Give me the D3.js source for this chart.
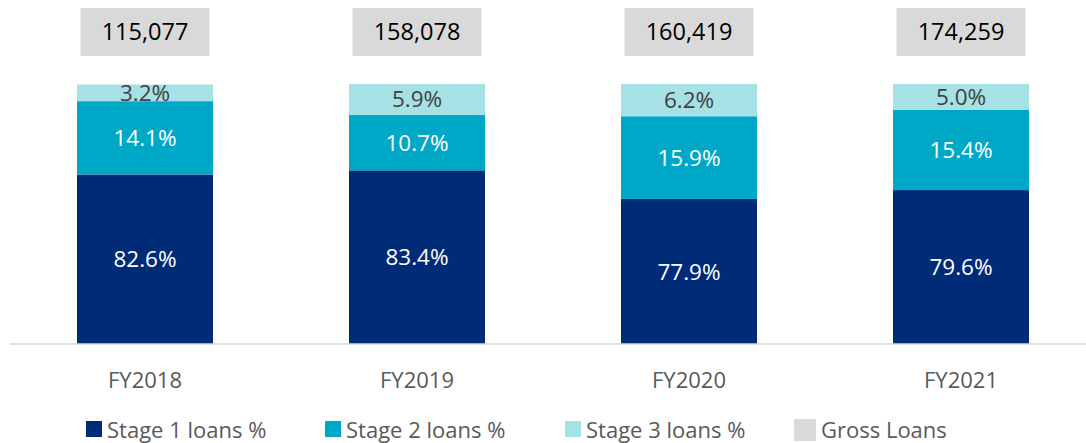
<!DOCTYPE html>
<html>
<head>
<meta charset="utf-8">
<script src="https://cdn.jsdelivr.net/npm/d3@7"></script>
<style>
  html, body { margin: 0; padding: 0; background: #fff; }
  svg { display: block; font-family: 'Open Sans', sans-serif; }
</style>
</head>
<body>
<div id="app"></div>
<script>
(function (d3) {

  'use strict'

  const years = ['FY2018', 'FY2019', 'FY2020', 'FY2021']
  const stage1 = [82.6, 83.4, 77.9, 79.6]
  const stage2 = [14.1, 10.7, 15.9, 15.4]
  const stage3 = [3.2, 5.9, 6.2, 5.0]
  const grossLoans = [115077, 158078, 160419, 174259]
  const seriesNames = ['Stage 1 loans %', 'Stage 2 loans %', 'Stage 3 loans %']
  const colors = ['#002b77', '#00a8c8', '#a6e1e6']

  const w = 1086
  const h = 443

  const svg = d3.select('#app')
  .append('svg')
  .attr('width', w)
  .attr('height', h)

  const x = d3.scaleBand()
  .domain(years)
  .range([9, 1097])
  .paddingInner(0.5)
  .paddingOuter(0.25)

  // value axis starts at 50%, bars are cut there
  const y = d3.scaleLinear()
  .domain([50, 100])
  .range([344, 84])

  const rows = years.map((yr, i) => ({ year: yr, s1: stage1[i], s2: stage2[i], s3: stage3[i] }))
  const stacked = d3.stack().keys(['s1', 's2', 's3'])(rows)

  const layers = svg.append('g')
  .selectAll('g')
  .data(stacked)
  .enter()
  .append('g')
  .attr('fill', (d, i) => colors[i])

  layers.selectAll('rect')
  .data(d => d)
  .enter()
  .append('rect')
  .attr('x', d => x(d.data.year))
  .attr('width', x.bandwidth())
  .attr('y', d => y(d[1]))
  .attr('height', d => y(Math.max(d[0], 50)) - y(d[1]))

  layers.each(function (layer, li) {
    d3.select(this).selectAll('text')
    .data(layer)
    .enter()
    .append('text')
    .attr('x', d => x(d.data.year) + x.bandwidth() / 2)
    .attr('y', d => (y(Math.max(d[0], 50)) + y(d[1])) / 2)
    .attr('dy', '0.36em')
    .attr('text-anchor', 'middle')
    .attr('font-size', 22.5)
    .attr('fill', li === 2 ? '#404040' : '#fff')
    .text(d => (d[1] - d[0]).toFixed(1) + '%')
  })

  // axis line + category labels
  svg.append('line')
  .attr('x1', 10).attr('x2', w)
  .attr('y1', y(50)).attr('y2', y(50))
  .attr('stroke', '#d9d9d9')
  .attr('stroke-width', 1.5)

  svg.append('g')
  .selectAll('text')
  .data(years)
  .enter()
  .append('text')
  .attr('x', d => x(d) + x.bandwidth() / 2)
  .attr('y', 388)
  .attr('text-anchor', 'middle')
  .attr('font-size', 22)
  .attr('fill', '#595959')
  .text(d => d)

  // gross loans boxes
  const boxW = 129
  const boxes = svg.append('g')
  .selectAll('g')
  .data(grossLoans)
  .enter()
  .append('g')
  .attr('transform', (d, i) => 'translate(' + (x(years[i]) + x.bandwidth() / 2) + ',8)')

  boxes.append('rect')
  .attr('x', -boxW / 2)
  .attr('width', boxW)
  .attr('height', 48)
  .attr('fill', '#d9d9d9')

  boxes.append('text')
  .attr('y', 24)
  .attr('dy', '0.36em')
  .attr('text-anchor', 'middle')
  .attr('font-size', 23.5)
  .attr('fill', '#000')
  .text(d => d3.format(',')(d))

  // legend
  const legend = [
    { name: seriesNames[0], color: colors[0], x: 86, s: 16 },
    { name: seriesNames[1], color: colors[1], x: 325, s: 16 },
    { name: seriesNames[2], color: colors[2], x: 565, s: 16 },
    { name: 'Gross Loans', color: '#d9d9d9', x: 794, s: 22 }
  ]

  const lg = svg.append('g')
  .selectAll('g')
  .data(legend)
  .enter()
  .append('g')

  lg.append('rect')
  .attr('x', d => d.x)
  .attr('y', d => d.s > 16 ? 419 : 421)
  .attr('width', d => d.s)
  .attr('height', d => d.s)
  .attr('fill', d => d.color)

  lg.append('text')
  .attr('x', d => d.x + d.s + 5)
  .attr('y', 438)
  .attr('font-size', 22)
  .attr('fill', '#595959')
  .text(d => d.name)

}(d3))
</script>
</body>
</html>
